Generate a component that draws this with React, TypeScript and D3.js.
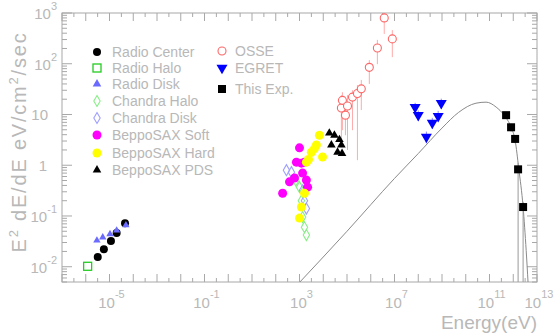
import * as d3 from "d3";

const W = 554;
const H = 335;
const left = 62;
const right = 537;
const top = 13;
const bottom = 282;

// energies in eV, fluxes as E^2 dF/dE in eV/cm^2/sec
const radioCenterE = [3.2e-6, 5.8e-6, 1.15e-5, 2.0e-5, 4.5e-5];
const radioCenterF = [0.0155, 0.022, 0.032, 0.046, 0.072];

const radioHaloE = [1.2e-6];
const radioHaloF = [0.0102];

const radioDiskE = [2.95e-6, 5.2e-6, 1.05e-5, 2.0e-5, 4.9e-5];
const radioDiskF = [0.033, 0.038, 0.044, 0.052, 0.066];

const chandraHaloE = [700, 1000, 1200, 1350, 1620, 1950];
const chandraHaloF = [0.5, 0.37, 0.2, 0.095, 0.06, 0.042];

const chandraDiskE = [282, 457, 1350, 1620, 1950];
const chandraDiskF = [0.8, 0.73, 0.32, 0.2, 0.14];

const saxSoftE = [195, 380, 617, 741, 1000, 1200, 1350, 1620, 1950, 2190];
const saxSoftF = [0.28, 0.47, 0.56, 1.15, 2.2, 1.1, 0.7, 1.15, 0.51, 0.37];

const saxHardE = [1000, 1200, 1620, 1950, 2400, 3160, 4200, 5130, 6920, 9330];
const saxHardF = [0.091, 0.15, 0.28, 1.15, 1.3, 1.8, 2.1, 2.5, 3.9, 1.45];

const saxPdsE = [1.8e4, 2.2e4, 2.95e4, 4.0e4, 4.8e4, 5.8e4, 6.2e4];
const saxPdsF = [4.3, 2.5, 3.9, 1.8, 3.2, 2.5, 1.7];

const osseE = [5.8e4, 6.4e4, 8.6e4, 1.05e5, 1.7e5, 2.75e5, 4.0e5, 8.7e5, 1.9e6, 3.7e6, 8.1e6];
const osseF = [13.4, 19, 9.7, 14.7, 22, 26, 32, 85, 204, 800, 309];
const osseLo = [3.1, 4.9, 3.9, 2.0, 4.9, 1.26, 12.2, 40, 98, 387, 135];
const osseHi = [24, 27.5, 19, 24, 30, 38, 48, 118, 295, 1150, 460];

const egretE = [7.4e7, 1.0e8, 2.2e8, 3.9e8, 6.9e8, 9.3e8];
const egretF = [14, 9.7, 3.6, 6.8, 9.3, 16.7];
const egretLo = [11, 7.5, 2.7, 5.2, 7.2, 13];
const egretHi = [17, 12, 4.6, 8.6, 11.8, 20.5];

const thisE = [5.0e11, 8.1e11, 1.2e12, 1.6e12, 2.6e12];
const thisF = [9.7, 5.6, 3.3, 0.83, 0.15];
const thisLo = [8.2, 4.6, 2.7, 0.001, 0.001];
const thisHi = [11.2, 6.6, 3.9, 1.1, 0.19];

const modelE = [1e3, 1e5, 1e7, 1e8, 1e9, 5e9, 2.7e10, 7.2e10, 1.9e11, 4.1e11, 8.1e11, 1.2e12, 1.7e12, 2.6e12, 3.5e12, 4.2e12];
const modelF = [0.0049, 0.05, 0.55, 1.7, 5.4, 11, 16.7, 17.5, 14, 9.7, 5.6, 3.1, 0.87, 0.15, 0.021, 0.0049];

const xLabelExps = [-5, -1, 3, 7, 11, 13];
const yLabelExps = [-2, -1, 0, 1, 2, 3];

type Kind = "dot" | "openSquare" | "up" | "openDiamond" | "ring" | "down" | "box";

const series = [
  { name: "Radio Center", E: radioCenterE, F: radioCenterF, kind: "dot" as Kind, color: "#000", size: 4 },
  { name: "Radio Halo", E: radioHaloE, F: radioHaloF, kind: "openSquare" as Kind, color: "#22cc22", size: 4 },
  { name: "Radio Disk", E: radioDiskE, F: radioDiskF, kind: "up" as Kind, color: "#6a6aff", size: 3 },
  { name: "Chandra Halo", E: chandraHaloE, F: chandraHaloF, kind: "openDiamond" as Kind, color: "#88ee88", size: 4 },
  { name: "Chandra Disk", E: chandraDiskE, F: chandraDiskF, kind: "openDiamond" as Kind, color: "#9f9fff", size: 4 },
  { name: "BeppoSAX Soft", E: saxSoftE, F: saxSoftF, kind: "dot" as Kind, color: "#ff00ff", size: 4.5 },
  { name: "BeppoSAX Hard", E: saxHardE, F: saxHardF, kind: "dot" as Kind, color: "#ffff00", size: 4.5 },
  { name: "BeppoSAX PDS", E: saxPdsE, F: saxPdsF, kind: "up" as Kind, color: "#000", size: 3.5 },
];

const series2 = [
  { name: "OSSE", kind: "ring" as Kind, color: "#ff6666", size: 4 },
  { name: "EGRET", kind: "down" as Kind, color: "#0000ff", size: 4.5 },
  { name: "This Exp.", kind: "box" as Kind, color: "#000", size: 4 },
];

function Marker({ kind, x, y, color, size }: { kind: Kind; x: number; y: number; color: string; size: number }) {
  if (kind === "dot") return <circle cx={x} cy={y} r={size} fill={color} />;
  if (kind === "ring") return <circle cx={x} cy={y} r={size} fill="#fff" stroke={color} strokeWidth={1.1} />;
  if (kind === "openSquare")
    return <rect x={x - size} y={y - size} width={size * 2} height={size * 2} fill="none" stroke={color} strokeWidth={1.3} />;
  if (kind === "box") return <rect x={x - size} y={y - size} width={size * 2} height={size * 2} fill={color} />;
  if (kind === "openDiamond") {
    const p = d3.symbol(d3.symbolDiamond, size * size * 2.2)();
    return <path d={p || ""} transform={`translate(${x},${y})`} fill="none" stroke={color} strokeWidth={1.1} />;
  }
  const t = d3.symbol(d3.symbolTriangle, size * size * 2.6)();
  return (
    <path d={t || ""} transform={`translate(${x},${y}) rotate(${kind === "down" ? 180 : 0})`} fill={color} />
  );
}

export default function App() {
  const x = d3.scaleLog().domain([1e-7, 1e13]).range([left, right]);
  const y = d3.scaleLog().domain([5e-3, 1e3]).range([bottom, top]);

  const textColor = "#b8b8b8";
  const axisColor = "#a8a8a8";
  const font = "'Liberation Sans', Arial, sans-serif";

  // x ticks: every decade and half decade
  const xTicks: { v: number; len: number }[] = [];
  for (let e = -7; e <= 13; e++) {
    xTicks.push({ v: Math.pow(10, e), len: 8 });
    if (e < 13) xTicks.push({ v: Math.pow(10, e + 0.5), len: 4 });
  }
  const yTicks: { v: number; len: number }[] = [];
  for (let e = -3; e <= 3; e++) {
    for (let k = 1; k <= 9; k++) {
      const v = k * Math.pow(10, e);
      if (v < 5e-3 || v > 1e3) continue;
      yTicks.push({ v, len: k === 1 ? 10 : 5 });
    }
  }

  const line = d3
    .line<number>()
    .x((_, i) => x(modelE[i]))
    .y((d) => y(d))
    .curve(d3.curveMonotoneX);

  return (
    <svg width={W} height={H} style={{ position: "absolute", left: 0, top: 0, background: "#fff" }} fontFamily={font}>
      <defs>
        <clipPath id="plot">
          <rect x={left} y={top} width={right - left} height={bottom - top} />
        </clipPath>
      </defs>

      {/* frame */}
      <rect x={left} y={top} width={right - left} height={bottom - top} fill="none" stroke={axisColor} strokeWidth={1} />
      {xTicks.map((t, i) => (
        <g key={"xt" + i} stroke={axisColor}>
          <line x1={x(t.v)} x2={x(t.v)} y1={bottom} y2={bottom - t.len} />
          <line x1={x(t.v)} x2={x(t.v)} y1={top} y2={top + t.len} />
        </g>
      ))}
      {yTicks.map((t, i) => (
        <g key={"yt" + i} stroke={axisColor}>
          <line x1={left} x2={left + t.len} y1={y(t.v)} y2={y(t.v)} />
          <line x1={right} x2={right - t.len} y1={y(t.v)} y2={y(t.v)} />
        </g>
      ))}

      {/* tick labels */}
      {xLabelExps.map((e) => (
        <text key={"xl" + e} x={x(Math.pow(10, e)) + 2} y={308} textAnchor="middle" fill={textColor} fontSize={15}>
          10
          <tspan dy={-10} fontSize={11}>
            {e}
          </tspan>
        </text>
      ))}
      {yLabelExps.map((e) => {
        const yy = y(Math.pow(10, e)) + 6;
        if (e === 0)
          return (
            <text key={"yl" + e} x={47} y={yy} textAnchor="end" fill={textColor} fontSize={15}>
              1
            </text>
          );
        if (e === 1)
          return (
            <text key={"yl" + e} x={48} y={yy} textAnchor="end" fill={textColor} fontSize={15}>
              10
            </text>
          );
        return (
          <text key={"yl" + e} x={57} y={yy} textAnchor="end" fill={textColor} fontSize={15}>
            10
            <tspan dy={-9} fontSize={11}>
              {e}
            </tspan>
          </text>
        );
      })}

      {/* axis titles */}
      <text
        transform={`translate(26,142) rotate(-90)`}
        textAnchor="middle"
        fill={textColor}
        fontSize={20}
        style={{ letterSpacing: "1.8px" }}
      >
        E
        <tspan dy={-8} fontSize={13}>
          2
        </tspan>
        <tspan dy={8}> dE/dE eV/cm</tspan>
        <tspan dy={-8} fontSize={13}>
          2
        </tspan>
        <tspan dy={8}>/sec</tspan>
      </text>
      <text x={537} y={329} textAnchor="end" fill={textColor} fontSize={19}>
        Energy(eV)
      </text>

      <g clipPath="url(#plot)">
        {/* model curve */}
        <path d={line(modelF) || ""} fill="none" stroke="#8a8a8a" strokeWidth={1} />

        {/* error bars */}
        {osseE.map((e, i) => (
          <line key={"oe" + i} x1={x(e)} x2={x(e)} y1={y(osseLo[i])} y2={y(osseHi[i])} stroke="#ffaaaa" strokeWidth={1} />
        ))}
        {egretE.map((e, i) => (
          <line key={"ee" + i} x1={x(e)} x2={x(e)} y1={y(egretLo[i])} y2={y(egretHi[i])} stroke="#8888ff" strokeWidth={1} />
        ))}
        {thisE.map((e, i) => (
          <line key={"te" + i} x1={x(e)} x2={x(e)} y1={y(thisLo[i])} y2={y(thisHi[i])} stroke="#999" strokeWidth={1} />
        ))}

        {series.map((s) =>
          s.E.map((e, i) => (
            <Marker key={s.name + i} kind={s.kind} x={x(e)} y={y(s.F[i])} color={s.color} size={s.size} />
          ))
        )}
        {osseE.map((e, i) => (
          <Marker key={"o" + i} kind="ring" x={x(e)} y={y(osseF[i])} color="#ff6666" size={4} />
        ))}
        {egretE.map((e, i) => (
          <Marker key={"g" + i} kind="down" x={x(e)} y={y(egretF[i])} color="#0000ff" size={4.5} />
        ))}
        {thisE.map((e, i) => (
          <Marker key={"t" + i} kind="box" x={x(e)} y={y(thisF[i])} color="#000" size={4} />
        ))}
      </g>

      {/* legends */}
      {series.map((s, i) => {
        const ly = [52, 68, 84, 101, 118, 135, 153, 170][i];
        return (
          <g key={"lg" + s.name}>
            <Marker kind={s.kind} x={97} y={ly} color={s.color} size={s.kind === "up" ? 3.5 : s.size} />
            <text x={112} y={ly + 5} fill={textColor} fontSize={14}>
              {s.name}
            </text>
          </g>
        );
      })}
      {series2.map((s, i) => {
        const ly = [51, 68, 89][i];
        return (
          <g key={"lg2" + s.name}>
            <Marker kind={s.kind} x={222} y={ly} color={s.color} size={s.size} />
            <text x={235} y={ly + 5} fill={textColor} fontSize={14}>
              {s.name}
            </text>
          </g>
        );
      })}
    </svg>
  );
}
